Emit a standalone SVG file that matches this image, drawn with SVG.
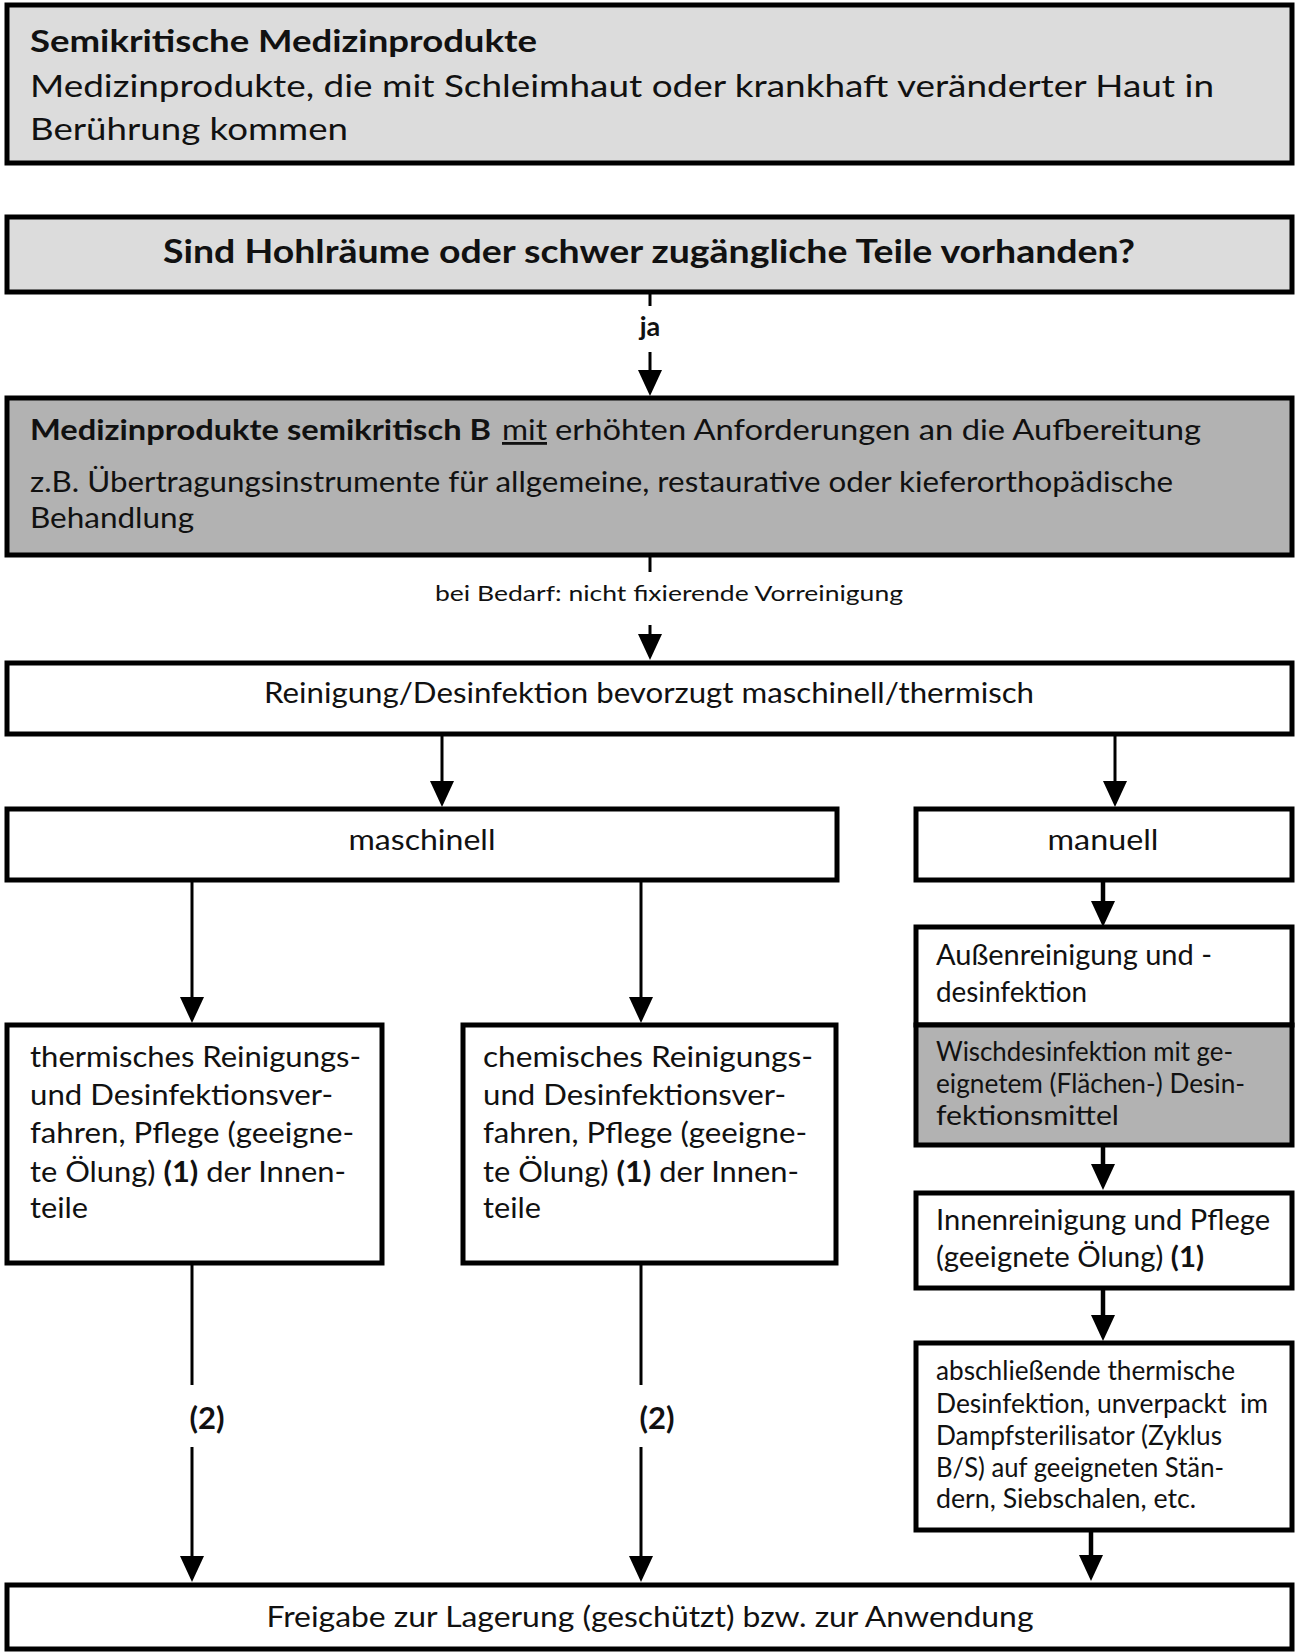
<svg xmlns="http://www.w3.org/2000/svg" width="1295" height="1652" viewBox="0 0 1295 1652">
<style>
.box{stroke:#000;stroke-width:5}
.w{fill:#fff}
.g1{fill:#dcdcdc}
.g2{fill:#b2b2b2}
text{font-family:Lato,"Open Sans","Liberation Sans",sans-serif;fill:#111}
.b{font-weight:bold}
.c{text-anchor:middle}
.ln{stroke:#000;stroke-width:3;fill:none}
.lt{stroke:#000;stroke-width:4.5;fill:none}
</style>
<defs>
<marker id="ah" markerUnits="userSpaceOnUse" markerWidth="26" markerHeight="26" refX="14" refY="12" orient="auto">
<path d="M0,0 L26,12 L0,24 z" fill="#000"/>
</marker>
</defs>
<rect width="1295" height="1652" fill="#fff"/>

<g id="connectors">
<line class="ln" x1="650" y1="294" x2="650" y2="306"/>
<text class="b c" x="650" y="336" font-size="27">ja</text>
<line class="ln" x1="650" y1="352" x2="650" y2="384" marker-end="url(#ah)"/>
<line class="ln" x1="650" y1="557" x2="650" y2="572"/>
<text class="c" x="669" y="601" font-size="22" textLength="468" lengthAdjust="spacingAndGlyphs">bei Bedarf: nicht fixierende Vorreinigung</text>
<line class="ln" x1="650" y1="625" x2="650" y2="648" marker-end="url(#ah)"/>
<line class="ln" x1="442" y1="736" x2="442" y2="795" marker-end="url(#ah)"/>
<line class="ln" x1="1115" y1="736" x2="1115" y2="795" marker-end="url(#ah)"/>
<line class="ln" x1="192" y1="882" x2="192" y2="1011" marker-end="url(#ah)"/>
<line class="ln" x1="641" y1="882" x2="641" y2="1011" marker-end="url(#ah)"/>
<line class="lt" x1="1103" y1="882" x2="1103" y2="915" marker-end="url(#ah)"/>
<line class="lt" x1="1103" y1="1147" x2="1103" y2="1178" marker-end="url(#ah)"/>
<line class="lt" x1="1103" y1="1290" x2="1103" y2="1329" marker-end="url(#ah)"/>
<line class="ln" x1="192" y1="1265" x2="192" y2="1385"/>
<text class="b c" x="207" y="1429" font-size="31">(2)</text>
<line class="ln" x1="192" y1="1447" x2="192" y2="1570" marker-end="url(#ah)"/>
<line class="ln" x1="641" y1="1265" x2="641" y2="1385"/>
<text class="b c" x="657" y="1429" font-size="31">(2)</text>
<line class="ln" x1="641" y1="1447" x2="641" y2="1570" marker-end="url(#ah)"/>
<line class="lt" x1="1091" y1="1532" x2="1091" y2="1569" marker-end="url(#ah)"/>
</g>

<g id="n-semikritisch">
<rect class="box g1" x="7" y="5" width="1285" height="158"/>
<text class="b" x="30" y="52" font-size="31" textLength="507" lengthAdjust="spacingAndGlyphs">Semikritische Medizinprodukte</text>
<text x="30" y="97" font-size="31" textLength="1184" lengthAdjust="spacingAndGlyphs">Medizinprodukte, die mit Schleimhaut oder krankhaft veränderter Haut in</text>
<text x="30" y="140" font-size="31" textLength="318" lengthAdjust="spacingAndGlyphs">Berührung kommen</text>
</g>

<g id="n-frage">
<rect class="box g1" x="7" y="217" width="1285" height="75"/>
<text class="b c" x="649" y="263" font-size="32" textLength="972" lengthAdjust="spacingAndGlyphs">Sind Hohlräume oder schwer zugängliche Teile vorhanden?</text>
</g>

<g id="n-semikritisch-b">
<rect class="box g2" x="7" y="398" width="1285" height="157"/>
<text class="b" x="30" y="440" font-size="28" textLength="461" lengthAdjust="spacingAndGlyphs">Medizinprodukte semikritisch B</text>
<text x="502" y="440" font-size="28" text-decoration="underline" textLength="45" lengthAdjust="spacingAndGlyphs">mit</text>
<text x="555" y="440" font-size="28" textLength="646" lengthAdjust="spacingAndGlyphs">erhöhten Anforderungen an die Aufbereitung</text>
<text x="30" y="492" font-size="28" textLength="1143" lengthAdjust="spacingAndGlyphs">z.B. Übertragungsinstrumente für allgemeine, restaurative oder kieferorthopädische</text>
<text x="30" y="528" font-size="28" textLength="164" lengthAdjust="spacingAndGlyphs">Behandlung</text>
</g>

<g id="n-reinigung">
<rect class="box w" x="7" y="663" width="1285" height="71"/>
<text class="c" x="649" y="703" font-size="28" textLength="770" lengthAdjust="spacingAndGlyphs">Reinigung/Desinfektion bevorzugt maschinell/thermisch</text>
</g>

<g id="n-maschinell">
<rect class="box w" x="7" y="809" width="830" height="71"/>
<text class="c" x="422" y="850" font-size="28" textLength="147" lengthAdjust="spacingAndGlyphs">maschinell</text>
</g>

<g id="n-manuell">
<rect class="box w" x="916" y="809" width="376" height="71"/>
<text class="c" x="1103" y="850" font-size="28" textLength="111" lengthAdjust="spacingAndGlyphs">manuell</text>
</g>

<g id="n-thermisch">
<rect class="box w" x="7" y="1025" width="375" height="238"/>
<text x="30" y="1067" font-size="28" textLength="331" lengthAdjust="spacingAndGlyphs">thermisches Reinigungs-</text>
<text x="30" y="1105" font-size="28" textLength="303" lengthAdjust="spacingAndGlyphs">und Desinfektionsver-</text>
<text x="30" y="1143" font-size="28" textLength="324" lengthAdjust="spacingAndGlyphs">fahren, Pflege (geeigne-</text>
<text x="30" y="1182" font-size="28" textLength="316" lengthAdjust="spacingAndGlyphs">te Ölung) <tspan class="b">(1)</tspan> der Innen-</text>
<text x="30" y="1218" font-size="28" textLength="58" lengthAdjust="spacingAndGlyphs">teile</text>
</g>

<g id="n-chemisch">
<rect class="box w" x="463" y="1025" width="373" height="238"/>
<text x="483" y="1067" font-size="28" textLength="330" lengthAdjust="spacingAndGlyphs">chemisches Reinigungs-</text>
<text x="483" y="1105" font-size="28" textLength="303" lengthAdjust="spacingAndGlyphs">und Desinfektionsver-</text>
<text x="483" y="1143" font-size="28" textLength="324" lengthAdjust="spacingAndGlyphs">fahren, Pflege (geeigne-</text>
<text x="483" y="1182" font-size="28" textLength="316" lengthAdjust="spacingAndGlyphs">te Ölung) <tspan class="b">(1)</tspan> der Innen-</text>
<text x="483" y="1218" font-size="28" textLength="58" lengthAdjust="spacingAndGlyphs">teile</text>
</g>

<g id="n-aussen">
<rect class="box w" x="916" y="927" width="376" height="98"/>
<text x="936" y="965" font-size="28" textLength="276" lengthAdjust="spacingAndGlyphs">Außenreinigung und -</text>
<text x="936" y="1002" font-size="28" textLength="151" lengthAdjust="spacingAndGlyphs">desinfektion</text>
</g>

<g id="n-wisch">
<rect class="box g2" x="916" y="1025" width="376" height="120"/>
<text x="936" y="1061" font-size="26" textLength="297" lengthAdjust="spacingAndGlyphs">Wischdesinfektion mit ge-</text>
<text x="936" y="1093" font-size="26" textLength="309" lengthAdjust="spacingAndGlyphs">eignetem (Flächen-) Desin-</text>
<text x="936" y="1125" font-size="26" textLength="183" lengthAdjust="spacingAndGlyphs">fektionsmittel</text>
</g>

<g id="n-innen">
<rect class="box w" x="916" y="1193" width="376" height="95"/>
<text x="936" y="1230" font-size="28" textLength="334" lengthAdjust="spacingAndGlyphs">Innenreinigung und Pflege</text>
<text x="936" y="1267" font-size="28" textLength="268" lengthAdjust="spacingAndGlyphs">(geeignete Ölung) <tspan class="b">(1)</tspan></text>
</g>

<g id="n-abschliessend">
<rect class="box w" x="916" y="1343" width="376" height="187"/>
<text x="936" y="1380" font-size="26" textLength="299" lengthAdjust="spacingAndGlyphs">abschließende thermische</text>
<text x="936" y="1413" font-size="26" textLength="332" lengthAdjust="spacingAndGlyphs" xml:space="preserve">Desinfektion, unverpackt  im</text>
<text x="936" y="1445" font-size="26" textLength="286" lengthAdjust="spacingAndGlyphs">Dampfsterilisator (Zyklus</text>
<text x="936" y="1477" font-size="26" textLength="288" lengthAdjust="spacingAndGlyphs">B/S) auf geeigneten Stän-</text>
<text x="936" y="1508" font-size="26" textLength="260" lengthAdjust="spacingAndGlyphs">dern, Siebschalen, etc.</text>
</g>

<g id="n-freigabe">
<rect class="box w" x="7" y="1585" width="1285" height="64"/>
<text class="c" x="650" y="1627" font-size="28" textLength="767" lengthAdjust="spacingAndGlyphs">Freigabe zur Lagerung (geschützt) bzw. zur Anwendung</text>
</g>
</svg>
